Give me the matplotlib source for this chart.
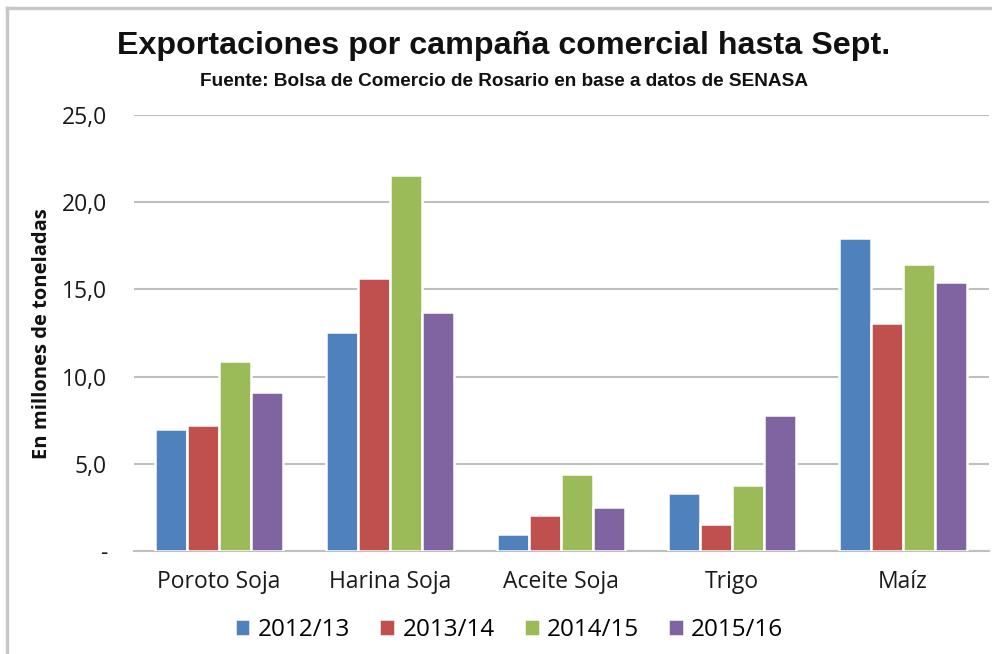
import matplotlib
matplotlib.use("Agg")
import matplotlib.pyplot as plt
from matplotlib.lines import Line2D
import numpy as np

categories = ["Poroto Soja", "Harina Soja", "Aceite Soja", "Trigo", "Maíz"]
series_names = ["2012/13", "2013/14", "2014/15", "2015/16"]
v_2012 = [7.0, 12.55, 0.95, 3.35, 17.95]
v_2013 = [7.2, 15.65, 2.05, 1.55, 13.05]
v_2014 = [10.9, 21.55, 4.4, 3.8, 16.45]
v_2015 = [9.1, 13.7, 2.55, 7.8, 15.4]
series_values = [v_2012, v_2013, v_2014, v_2015]
colors = ["#4F81BD", "#C0504D", "#9BBB59", "#8064A2"]
yticks = [0, 5, 10, 15, 20, 25]
ytick_labels = ["-", "5,0", "10,0", "15,0", "20,0", "25,0"]

W, H = 992, 654
FONT = ["Open Sans", "DejaVu Sans"]
fig = plt.figure(figsize=(W / 100, H / 100), dpi=100)
fig.patch.set_facecolor("white")

ax = fig.add_axes([133.5 / W, (H - 551) / H, (988.5 - 133.5) / W, (551 - 115) / H])
x = np.arange(len(categories))
step = 0.186
bw = 0.186
for i, (vals, c, name) in enumerate(zip(series_values, colors, series_names)):
    ax.bar(x + (i - 1.5) * step, vals, width=bw, color=c, edgecolor="white",
           linewidth=1.8, label=name, zorder=3)

ax.set_xlim(-0.5, len(categories) - 0.5)
ax.set_ylim(0, 25)
ax.set_yticks(yticks)
ax.set_yticklabels(ytick_labels)
ax.set_xticks(x)
ax.set_xticklabels(categories)
ax.grid(axis="y", color="#BFBFBF", linewidth=1.5, zorder=0)
for s in ["top", "right", "left"]:
    ax.spines[s].set_visible(False)
ax.spines["bottom"].set_color("#BFBFBF")
ax.spines["bottom"].set_linewidth(1.5)
ax.tick_params(axis="both", length=0, colors="#1A1A1A")
ax.tick_params(axis="y", pad=19, labelsize=16.5)
ax.tick_params(axis="x", pad=14, labelsize=16.5)
for lab in ax.get_xticklabels() + ax.get_yticklabels():
    lab.set_family(FONT)

fig.text(42 / W, 1 - 334 / H, "En millones de toneladas", rotation=90,
         ha="center", va="center", fontsize=14.5, fontweight="bold",
         family=FONT, color="#111111")

title = fig.text(504 / W, 1 - 46 / H, "Exportaciones por campaña comercial hasta Sept.",
                 ha="center", va="center", fontsize=22, fontweight="bold",
                 family=["Liberation Sans", "DejaVu Sans"], color="#111111")
sub = fig.text(504 / W, 1 - 81 / H, "Fuente: Bolsa de Comercio de Rosario en base a datos de SENASA",
               ha="center", va="center", fontsize=11.5, fontweight="bold",
               family=["Liberation Sans", "DejaVu Sans"], color="#111111")

handles, labels = ax.get_legend_handles_labels()
leg = fig.legend(handles, labels, loc="center", bbox_to_anchor=(509 / W, 1 - 630 / H),
                 ncol=4, frameon=False, handlelength=0.65, handleheight=0.65,
                 handletextpad=0.3, columnspacing=1.2,
                 prop={"family": FONT, "size": 17.5})

# fit title widths to the reference widths
renderer = fig.canvas.get_renderer()
for t, target in [(title, 772), (sub, 608)]:
    for _ in range(3):
        w = t.get_window_extent(renderer).width
        t.set_fontsize(t.get_fontsize() * target / w)

fig.add_artist(Line2D([6.5 / W, 6.5 / W], [0, 1 - 8 / H], color="#C8C8C8", linewidth=2.5))
fig.add_artist(Line2D([6.5 / W, 1], [1 - 8 / H, 1 - 8 / H], color="#C8C8C8", linewidth=2.5))

fig.savefig("out.png", dpi=100, facecolor="white")
